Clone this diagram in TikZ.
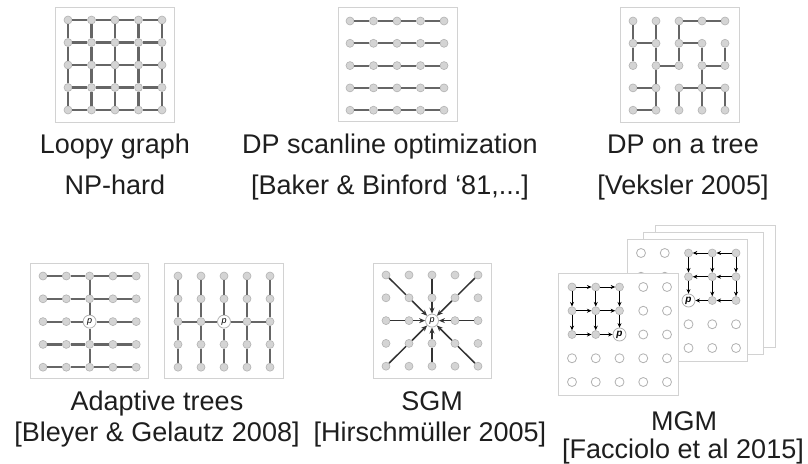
\documentclass[tikz,border=0pt]{standalone}
\usepackage{fontspec}
\setmainfont{Liberation Sans}
\usetikzlibrary{arrows.meta}
\definecolor{boxline}{HTML}{D2D2D2}
\definecolor{nodefill}{HTML}{D4D4D4}
\definecolor{nodeline}{HTML}{B2B2B2}
\definecolor{edgecol}{HTML}{666666}
\definecolor{txt}{HTML}{1E1E1E}
\tikzset{
 panel/.style={draw=boxline, line width=1pt, fill=white},
 gn/.style={circle, fill=nodefill, draw=nodeline, line width=0.6pt, minimum size=8pt, inner sep=0pt},
 en/.style={circle, fill=white, draw=nodeline, line width=0.8pt, minimum size=9pt, inner sep=0pt},
 pn/.style={circle, fill=white, draw=nodeline, line width=0.8pt, minimum size=13pt, inner sep=0pt, font=\fontsize{9}{9}\selectfont\itshape},
 ed/.style={draw=edgecol, line width=2.2pt},
 sline/.style={draw=black!80, line width=1.5pt},
 sarr/.style={sline, -{Stealth[length=6pt,width=5pt]}},
 marr/.style={draw=black, line width=0.9pt, -{Stealth[length=4.5pt,width=4pt]}},
 lab/.style={text=txt, anchor=base, inner sep=0pt, font=\fontsize{27}{32}\selectfont},
 labb/.style={text=txt, anchor=base, inner sep=0pt, font=\fontsize{27}{32}\selectfont},
}
\begin{document}
\begin{tikzpicture}[x=1pt,y=-1pt]
\useasboundingbox (0,0) rectangle (808,463);
% ---------- Loopy graph
\draw[panel] (55,7) rectangle (174,122);
\foreach \i in {1,...,5}{\foreach \j in {1,...,5}{
  \node[gn] (L\i\j) at ({68+(\i-1)*23.5},{20+(\j-1)*22.5}) {};}}
\foreach \i in {1,...,5}{\foreach \j/\k in {1/2,2/3,3/4,4/5}{
  \draw[ed] (L\i\j) -- (L\i\k);
  \draw[ed] (L\j\i) -- (L\k\i);}}
% ---------- Scanline
\draw[panel] (338,7) rectangle (457,121);
\foreach \i in {1,...,5}{\foreach \j in {1,...,5}{
  \node[gn] (D\i\j) at ({350+(\i-1)*23.5},{21+(\j-1)*22.3}) {};}}
\foreach \j in {1,...,5}{\foreach \i/\k in {1/2,2/3,3/4,4/5}{
  \draw[ed] (D\i\j) -- (D\k\j);}}
% ---------- Tree
\draw[panel] (620,7) rectangle (739,122);
\foreach \i in {1,...,5}{\foreach \j in {1,...,5}{
  \node[gn] (T\i\j) at ({633+(\i-1)*23},{21+(\j-1)*22.3}) {};}}
\foreach \a/\b in {11/12,12/13,21/22,22/23,23/24,24/25,31/32,32/33,34/35,42/43,43/44,44/45,52/53,54/55,
  31/41,41/51,12/22,32/42,23/33,43/53,14/24,34/44,44/54,15/25}{
  \draw[ed] (T\a) -- (T\b);}
% ---------- Adaptive tree 1
\draw[panel] (30,263) rectangle (148,378);
\foreach \i in {1,...,5}{\foreach \j in {1,...,5}{
  \ifnum\i\j=33\relax\else
  \node[gn] (A\i\j) at ({43+(\i-1)*23.3},{276+(\j-1)*22.8}) {};\fi}}
\node[pn] (A33) at ({43+2*23.3},{276+2*22.8}) {p};
\foreach \j in {1,...,5}{\foreach \i/\k in {1/2,2/3,3/4,4/5}{
  \draw[ed] (A\i\j) -- (A\k\j);}}
\foreach \j/\k in {1/2,2/3,3/4,4/5}{\draw[ed] (A3\j) -- (A3\k);}
% ---------- Adaptive tree 2
\draw[panel] (164,263) rectangle (283,378);
\foreach \i in {1,...,5}{\foreach \j in {1,...,5}{
  \ifnum\i\j=33\relax\else
  \node[gn] (B\i\j) at ({178+(\i-1)*23},{276+(\j-1)*22.8}) {};\fi}}
\node[pn] (B33) at ({178+2*23},{276+2*22.8}) {p};
\foreach \i in {1,...,5}{\foreach \j/\k in {1/2,2/3,3/4,4/5}{
  \draw[ed] (B\i\j) -- (B\i\k);}}
\foreach \i/\k in {1/2,2/3,3/4,4/5}{\draw[ed] (B\i3) -- (B\k3);}
% ---------- SGM
\draw[panel] (373,263) rectangle (491,378);
\foreach \i in {1,...,5}{\foreach \j in {1,...,5}{
  \ifnum\i\j=33\relax\else
  \node[gn] (S\i\j) at ({386+(\i-1)*23},{275+(\j-1)*22.8}) {};\fi}}
\node[pn] (S33) at ({386+2*23},{275+2*22.8}) {p};
\foreach \o/\m in {11/22,31/32,51/42,13/23,53/43,15/24,35/34,55/44}{
  \draw[sline] (S\o) -- (S\m);
  \draw[sarr] (S\m) -- (S33);}
% ---------- MGM back sheets
\draw[panel] (655,225) rectangle (775,347);
\draw[panel] (643,232) rectangle (763,354);
\draw[panel] (627,239) rectangle (747,361);
\foreach \i in {1,...,5}{\foreach \j in {1,...,5}{
  \pgfmathtruncatemacro{\fil}{(\i>2)&&(\j<4)}
  \ifnum\i\j=33\relax\else
  \ifnum\fil=1
    \node[gn] (M\i\j) at ({641+(\i-1)*23.75},{253+(\j-1)*23.75}) {};
  \else
    \node[en] (M\i\j) at ({641+(\i-1)*23.75},{253+(\j-1)*23.75}) {};
  \fi\fi}}
\node[pn, font=\fontsize{10}{10}\selectfont\bfseries\itshape] (M33) at ({641+2*23.75},{253+2*23.75}) {p};
\foreach \a/\b in {51/41,41/31,52/42,42/32,53/43,43/33,31/32,32/33,41/42,42/43,51/52,52/53}{
  \draw[marr] (M\a) -- (M\b);}
% ---------- MGM front sheet
\draw[panel] (558,273) rectangle (678,395);
\foreach \i in {1,...,5}{\foreach \j in {1,...,5}{
  \pgfmathtruncatemacro{\fil}{(\i<4)&&(\j<4)}
  \ifnum\i\j=33\relax\else
  \ifnum\fil=1
    \node[gn] (F\i\j) at ({572+(\i-1)*23.75},{287+(\j-1)*23.75}) {};
  \else
    \node[en] (F\i\j) at ({572+(\i-1)*23.75},{287+(\j-1)*23.75}) {};
  \fi\fi}}
\node[pn, font=\fontsize{10}{10}\selectfont\bfseries\itshape] (F33) at ({572+2*23.75},{287+2*23.75}) {p};
\foreach \a/\b in {11/21,21/31,12/22,22/32,13/23,23/33,11/12,12/13,21/22,22/23,31/32,32/33}{
  \draw[marr] (F\a) -- (F\b);}
% ---------- Labels
\node[lab] (t1a) at (115,153) {Loopy graph};
\node[lab] (t1b) at (115,194) {NP-hard};
\node[lab] (t2a) at (390,153) {DP scanline optimization};
\node[lab] (t2b) at (390,194) {[Baker \& Binford ‘81,...]};
\node[lab] (t3a) at (683,153) {DP on a tree};
\node[lab] (t3b) at (683,194) {[Veksler 2005]};
\node[labb] (b1a) at (157,410) {Adaptive trees};
\node[labb] (b1b) at (157,441) {[Bleyer \& Gelautz 2008]};
\node[labb] (b2a) at (432,410) {SGM};
\node[labb] (b2b) at (430,441) {[Hirschmüller 2005]};
\node[labb] (b3a) at (684,430) {MGM};
\node[labb] (b3b) at (683,458) {[Facciolo et al 2015]};
\end{tikzpicture}
\end{document}
